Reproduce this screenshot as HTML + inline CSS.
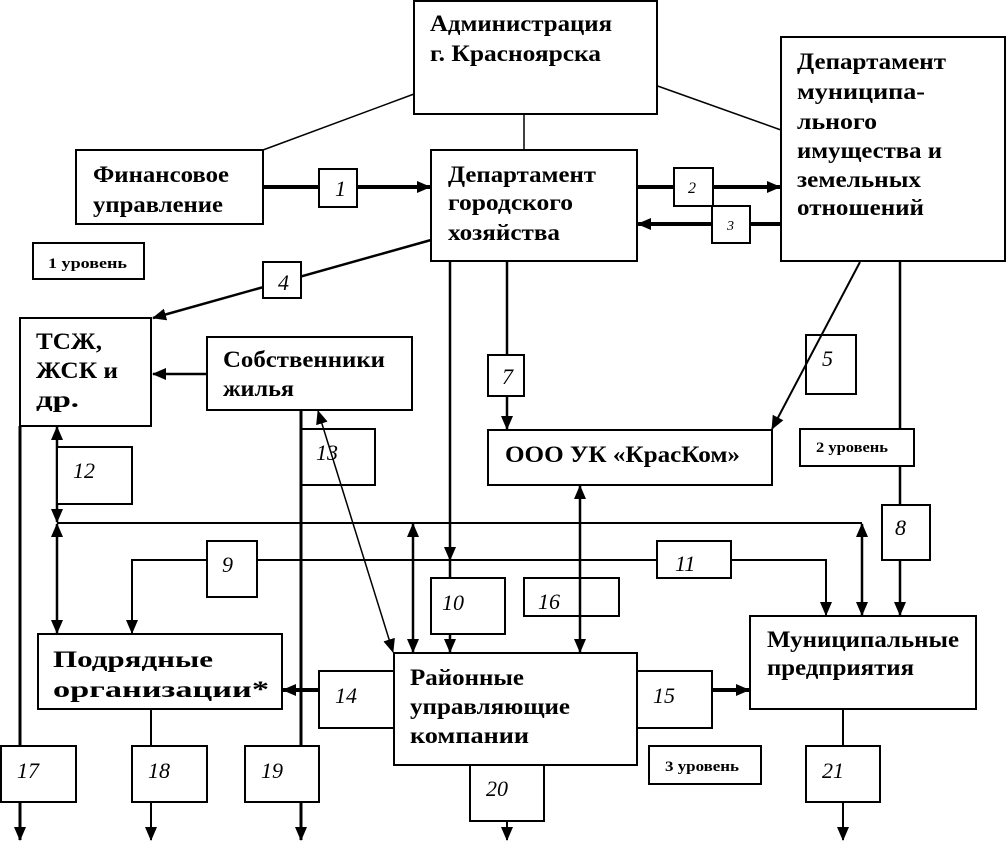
<!DOCTYPE html>
<html><head><meta charset="utf-8"><style>
html,body{margin:0;padding:0;background:#fff;}
svg{display:block}
.t{font-family:"Liberation Serif","Noto Serif CJK SC",serif;font-weight:bold;font-size:23px;fill:#000}
.s{font-family:"Liberation Serif",serif;font-weight:bold;font-size:15px;fill:#000}
.n{font-family:"Liberation Serif",serif;font-style:italic;font-size:22px;fill:#000}
</style></head><body>
<svg width="1007" height="841" viewBox="0 0 1007 841" xmlns="http://www.w3.org/2000/svg">
<defs>
<marker id="a" markerWidth="14" markerHeight="12" refX="13" refY="6" orient="auto-start-reverse" markerUnits="userSpaceOnUse"><path d="M0,0 L14,6 L0,12 Z" fill="#000"/></marker>
</defs>
<g stroke="#000" fill="none">
<line x1="414" y1="94" x2="263" y2="150" stroke-width="1.5"/>
<line x1="652" y1="84" x2="781" y2="130" stroke-width="1.5"/>
<line x1="524" y1="114" x2="524" y2="150" stroke-width="1.5"/>
<line x1="263" y1="187" x2="430" y2="187" stroke-width="4" marker-end="url(#a)"/>
<line x1="637" y1="187" x2="780" y2="187" stroke-width="4" marker-end="url(#a)"/>
<line x1="785" y1="224" x2="638" y2="224" stroke-width="4" marker-end="url(#a)"/>
<line x1="431" y1="240" x2="153" y2="318" stroke-width="2.5" marker-end="url(#a)"/>
<line x1="207" y1="374" x2="153" y2="374" stroke-width="2.5" marker-end="url(#a)"/>
<line x1="507" y1="261" x2="507" y2="429" stroke-width="2.5" marker-end="url(#a)"/>
<line x1="450" y1="261" x2="450" y2="560" stroke-width="2.5" marker-end="url(#a)"/>
<line x1="450" y1="560" x2="450" y2="652" stroke-width="2.5" marker-end="url(#a)"/>
<line x1="860" y1="262" x2="772" y2="429" stroke-width="2" marker-end="url(#a)"/>
<line x1="900" y1="261" x2="900" y2="615" stroke-width="2.5" marker-end="url(#a)"/>
<line x1="57" y1="523" x2="862" y2="523" stroke-width="2"/>
<line x1="862" y1="524" x2="862" y2="615" stroke-width="2.5" marker-start="url(#a)" marker-end="url(#a)"/>
<line x1="413" y1="524" x2="413" y2="652" stroke-width="2.5" marker-start="url(#a)" marker-end="url(#a)"/>
<line x1="57" y1="427" x2="57" y2="522" stroke-width="2.5" marker-start="url(#a)" marker-end="url(#a)"/>
<line x1="57" y1="524" x2="57" y2="633" stroke-width="2.5" marker-start="url(#a)" marker-end="url(#a)"/>
<polyline points="132,633 132,560 826,560 826,615" stroke-width="2"/>
<line x1="132" y1="620" x2="132" y2="633" stroke-width="2" marker-end="url(#a)"/>
<line x1="826" y1="600" x2="826" y2="615" stroke-width="2" marker-end="url(#a)"/>
<line x1="580" y1="486" x2="580" y2="652" stroke-width="2.5" marker-start="url(#a)" marker-end="url(#a)"/>
<line x1="318" y1="411" x2="393" y2="652" stroke-width="1.5" marker-start="url(#a)" marker-end="url(#a)"/>
<line x1="301" y1="410" x2="301" y2="840" stroke-width="3" marker-end="url(#a)"/>
<line x1="20" y1="426" x2="20" y2="840" stroke-width="3" marker-end="url(#a)"/>
<line x1="151" y1="709" x2="151" y2="840" stroke-width="2" marker-end="url(#a)"/>
<line x1="507" y1="765" x2="507" y2="840" stroke-width="2" marker-end="url(#a)"/>
<line x1="843" y1="709" x2="843" y2="840" stroke-width="2" marker-end="url(#a)"/>
<line x1="319" y1="690" x2="283" y2="690" stroke-width="4" marker-end="url(#a)"/>
<line x1="712" y1="690" x2="749" y2="690" stroke-width="4" marker-end="url(#a)"/>
</g>
<g stroke="#000" stroke-width="2" fill="#fff">
<rect x="414" y="1" width="243" height="113"/>
<rect x="781" y="37" width="224" height="224"/>
<rect x="76" y="150" width="187" height="74"/>
<rect x="431" y="150" width="206" height="111"/>
<rect x="33" y="243" width="111" height="36"/>
<rect x="20" y="318" width="131" height="108"/>
<rect x="207" y="337" width="205" height="73"/>
<rect x="488" y="355" width="36" height="41"/>
<rect x="806" y="335" width="50" height="59" fill="none"/>
<rect x="488" y="430" width="284" height="55"/>
<rect x="800" y="429" width="114" height="37"/>
<rect x="57" y="447" width="75" height="57"/>
<rect x="301" y="429" width="74" height="56" fill="none"/>
<rect x="882" y="505" width="48" height="55"/>
<rect x="207" y="541" width="50" height="56"/>
<rect x="657" y="541" width="74" height="37"/>
<rect x="431" y="578" width="74" height="56"/>
<rect x="524" y="578" width="95" height="38" fill="none"/>
<rect x="38" y="634" width="244" height="75"/>
<rect x="394" y="653" width="243" height="112"/>
<rect x="319" y="671" width="75" height="57"/>
<rect x="637" y="671" width="75" height="57"/>
<rect x="750" y="616" width="226" height="93"/>
<rect x="649" y="746" width="112" height="38"/>
<rect x="1" y="746" width="75" height="56"/>
<rect x="132" y="746" width="75" height="56"/>
<rect x="245" y="746" width="74" height="56"/>
<rect x="470" y="765" width="74" height="56"/>
<rect x="806" y="746" width="74" height="56"/>
<rect x="319" y="169" width="38" height="38"/>
<rect x="674" y="168" width="39" height="38"/>
<rect x="712" y="206" width="38" height="37"/>
<rect x="263" y="262" width="38" height="36"/>
</g>
<g class="t" lengthAdjust="spacingAndGlyphs">
<text x="430" y="31" textLength="182" lengthAdjust="spacingAndGlyphs">Администрация</text>
<text x="430" y="61" textLength="171" lengthAdjust="spacingAndGlyphs">г. Красноярска</text>
<text x="797" y="69" textLength="149" lengthAdjust="spacingAndGlyphs">Департамент</text>
<text x="797" y="99" textLength="128" lengthAdjust="spacingAndGlyphs">муниципа-</text>
<text x="797" y="129" textLength="80" lengthAdjust="spacingAndGlyphs">льного</text>
<text x="797" y="158" textLength="145" lengthAdjust="spacingAndGlyphs">имущества и</text>
<text x="797" y="187" textLength="124" lengthAdjust="spacingAndGlyphs">земельных</text>
<text x="797" y="215" textLength="127" lengthAdjust="spacingAndGlyphs">отношений</text>
<text x="93" y="182" textLength="136" lengthAdjust="spacingAndGlyphs">Финансовое</text>
<text x="93" y="212" textLength="130" lengthAdjust="spacingAndGlyphs">управление</text>
<text x="448" y="182" textLength="148" lengthAdjust="spacingAndGlyphs">Департамент</text>
<text x="448" y="210" textLength="125" lengthAdjust="spacingAndGlyphs">городского</text>
<text x="448" y="240" textLength="112" lengthAdjust="spacingAndGlyphs">хозяйства</text>
<text x="36" y="349" textLength="66" lengthAdjust="spacingAndGlyphs">ТСЖ,</text>
<text x="36" y="378" textLength="82" lengthAdjust="spacingAndGlyphs">ЖСК и</text>
<text x="36" y="407" textLength="43" lengthAdjust="spacingAndGlyphs">др.</text>
<text x="223" y="367" textLength="162" lengthAdjust="spacingAndGlyphs">Собственники</text>
<text x="223" y="396" textLength="71" lengthAdjust="spacingAndGlyphs">жилья</text>
<text x="505" y="462" textLength="235" lengthAdjust="spacingAndGlyphs">ООО УК «КрасКом»</text>
<text x="53" y="667" textLength="160" lengthAdjust="spacingAndGlyphs">Подрядные</text>
<text x="53" y="697" textLength="216" lengthAdjust="spacingAndGlyphs">организации*</text>
<text x="410" y="685" textLength="114" lengthAdjust="spacingAndGlyphs">Районные</text>
<text x="410" y="714" textLength="160" lengthAdjust="spacingAndGlyphs">управляющие</text>
<text x="410" y="743" textLength="119" lengthAdjust="spacingAndGlyphs">компании</text>
<text x="767" y="647" textLength="192" lengthAdjust="spacingAndGlyphs">Муниципальные</text>
<text x="767" y="675" textLength="147" lengthAdjust="spacingAndGlyphs">предприятия</text>
</g>
<g class="s">
<text x="48" y="268" textLength="79" lengthAdjust="spacingAndGlyphs">1 уровень</text>
<text x="816" y="452" textLength="72" lengthAdjust="spacingAndGlyphs">2 уровень</text>
<text x="665" y="771" textLength="74" lengthAdjust="spacingAndGlyphs">3 уровень</text>
</g>
<g class="n">
<text x="335" y="196">1</text>
<text x="688" y="193" font-size="16">2</text>
<text x="727" y="230" font-size="14">3</text>
<text x="278" y="290">4</text>
<text x="822" y="366">5</text>
<text x="502" y="384">7</text>
<text x="895" y="535">8</text>
<text x="222" y="572">9</text>
<text x="442" y="610">10</text>
<text x="675" y="571">11</text>
<text x="73" y="478">12</text>
<text x="316" y="460">13</text>
<text x="335" y="703">14</text>
<text x="653" y="703">15</text>
<text x="538" y="609">16</text>
<text x="17" y="778">17</text>
<text x="148" y="778">18</text>
<text x="261" y="778">19</text>
<text x="486" y="796">20</text>
<text x="822" y="778">21</text>
</g>
</svg>
</body></html>
